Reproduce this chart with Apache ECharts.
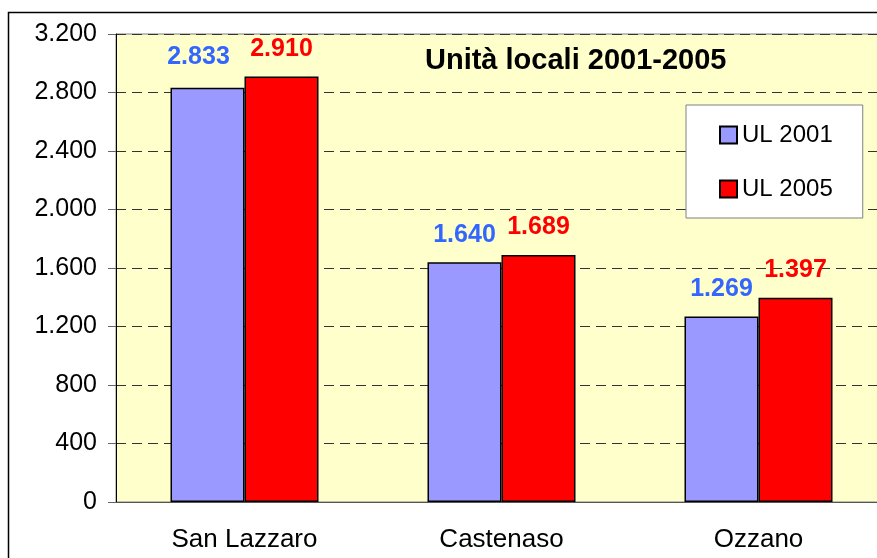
<!DOCTYPE html>
<html>
<head>
<meta charset="utf-8">
<script src="https://cdn.jsdelivr.net/npm/echarts@6/dist/echarts.min.js"></script>
<style>
  html, body { margin: 0; padding: 0; background: #fff; }
  #main { width: 877px; height: 558px; }
</style>
</head>
<body>
<div id="main"></div>
<script type="text/javascript">
    // dati
    var comuni = ['San Lazzaro', 'Castenaso', 'Ozzano'];
    var ul2001 = [2833, 1640, 1269];
    var ul2005 = [2910, 1689, 1397];
    var titolo = 'Unità locali 2001-2005';

    var font = '"Liberation Sans", Arial, sans-serif';

    // separatore migliaia con il punto
    function fmt(v) {
        return String(v).replace(/\B(?=(\d{3})+(?!\d))/g, '.');
    }

    // l'etichetta di San Lazzaro 2001 nell'originale e' spostata in alto a sinistra
    var dati2001 = ul2001.map(function (v, i) {
        return i === 0 ? { value: v, label: { offset: [-9, -3] } } : v;
    });

    var myChart = echarts.init(document.getElementById('main'));
    var option = {
        animation: false,
        backgroundColor: '#fff',
        title: {
            text: titolo,
            left: 425,
            top: 46,
            padding: 0,
            textStyle: { fontFamily: font, fontSize: 29, fontWeight: 'bold', color: '#000' }
        },
        legend: {
            orient: 'vertical',
            left: 686,
            top: 105,
            padding: [18, 30, 17, 33],
            itemGap: 30,
            itemWidth: 17,
            itemHeight: 17,
            icon: 'rect',
            backgroundColor: '#fff',
            borderColor: '#808080',
            borderWidth: 1,
            textStyle: { fontFamily: font, fontSize: 24, color: '#000' },
            data: ['UL 2001', 'UL 2005']
        },
        grid: {
            left: 116,
            top: 34,
            width: 771,
            height: 468,
            outerBoundsMode: 'none',
            show: true,
            backgroundColor: '#FFFFCC',
            borderColor: '#808080',
            borderWidth: 1
        },
        xAxis: {
            type: 'category',
            data: comuni,
            axisLine: { lineStyle: { color: '#555', width: 1 } },
            axisTick: { length: 8, lineStyle: { color: '#666' } },
            axisLabel: { margin: 25, fontFamily: font, fontSize: 26, color: '#000' }
        },
        yAxis: {
            type: 'value',
            min: 0,
            max: 3200,
            interval: 400,
            axisLine: { show: true, lineStyle: { color: '#000', width: 1 } },
            axisTick: { show: true, length: 8, lineStyle: { color: '#666' } },
            axisLabel: {
                margin: 19, fontFamily: font, fontSize: 25, color: '#000',
                formatter: function (v) { return fmt(v); }
            },
            splitLine: { lineStyle: { color: '#333', type: [10, 6], width: 1 } }
        },
        series: [
            {
                name: 'UL 2001',
                type: 'bar',
                data: dati2001,
                barWidth: 74,
                barGap: '0%',
                itemStyle: { color: '#9999FF', borderColor: '#000', borderWidth: 1.5 },
                label: {
                    show: true, position: 'top', distance: 15,
                    fontFamily: font, fontSize: 25, fontWeight: 'bold', color: '#3366FF',
                    formatter: function (p) { return fmt(p.value); }
                }
            },
            {
                name: 'UL 2005',
                type: 'bar',
                data: ul2005,
                barWidth: 74,
                barGap: '0%',
                itemStyle: { color: '#FF0000', borderColor: '#000', borderWidth: 1.5 },
                label: {
                    show: true, position: 'top', distance: 15,
                    fontFamily: font, fontSize: 25, fontWeight: 'bold', color: '#FF0000',
                    formatter: function (p) { return fmt(p.value); }
                }
            }
        ],
        graphic: [
            {
                type: 'rect',
                z: -1,
                shape: { x: 8.5, y: 12.5, width: 900, height: 600 },
                style: { fill: 'none', stroke: '#000', lineWidth: 1.5 }
            }
        ]
    };
    myChart.setOption(option);
</script>
</body>
</html>
